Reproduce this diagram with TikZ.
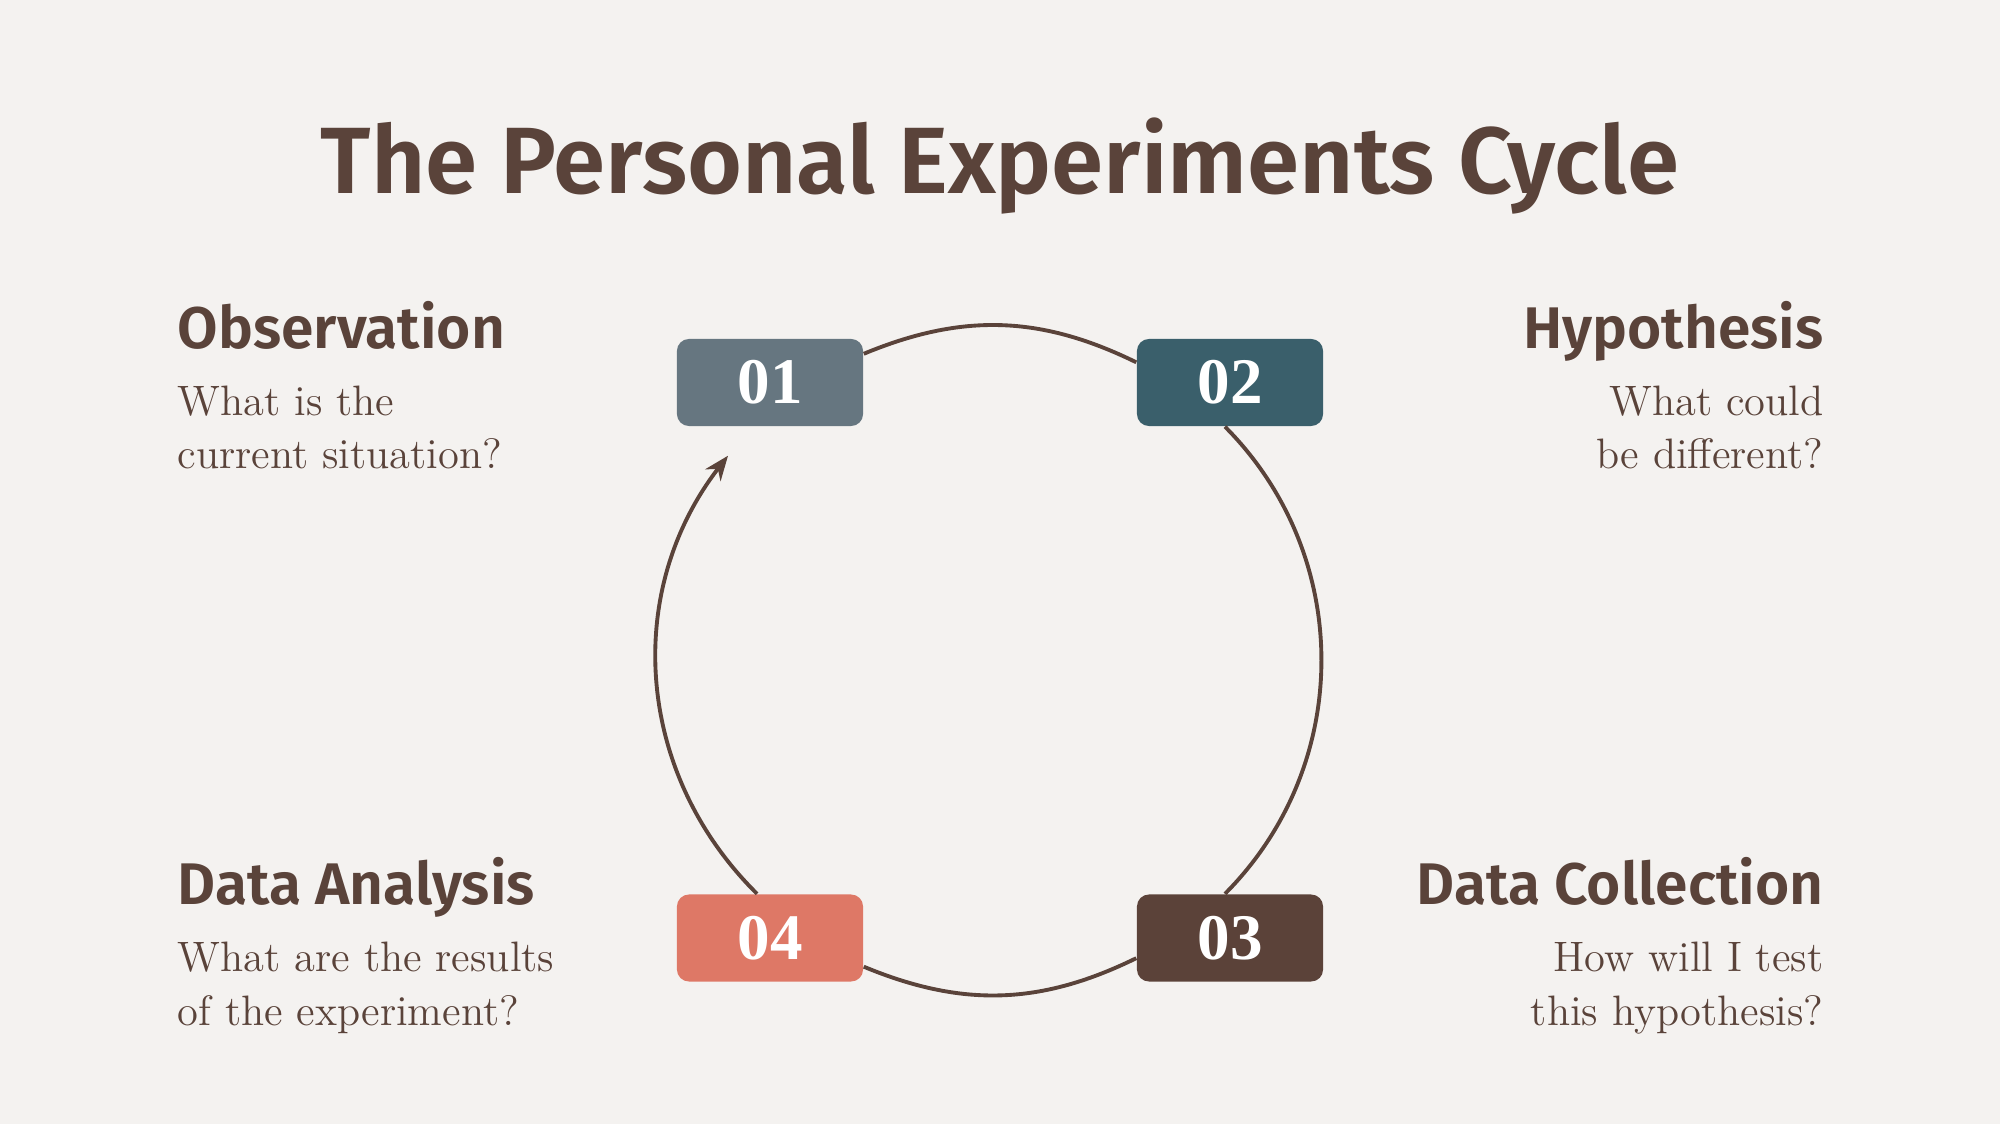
\documentclass[tikz,border=0pt]{standalone}
\usepackage{fontspec}
\setsansfont{Fira Sans}[BoldFont={Fira Sans SemiBold}]
\newfontfamily\numfont{Liberation Serif}
\usepackage{xcolor}
\usetikzlibrary{calc, positioning, arrows.meta}
\definecolor{bgcream}{HTML}{F4F2F0}
\definecolor{inkbrown}{HTML}{5A433A}
\definecolor{stepSlate}{HTML}{667680}
\definecolor{stepTeal}{HTML}{3A5F6B}
\definecolor{stepBrown}{HTML}{5B4239}
\definecolor{stepSalmon}{HTML}{DE7866}
\tikzset{
    title/.style={anchor=base, inner sep=0pt, text=inkbrown, font=\sffamily\bfseries\fontsize{26.8}{27}\selectfont},
    stepnum/.style={rectangle, rounded corners=3.4pt, minimum width=1.86cm, minimum height=0.87cm, inner sep=0pt, text=white, font=\numfont\bfseries\fontsize{18.5}{18.5}\selectfont},
    heading/.style={inner sep=0pt, text=inkbrown, font=\sffamily\bfseries\fontsize{16.7}{16.7}\selectfont},
    question/.style={inner sep=0pt, text=inkbrown, font=\fontsize{12.1}{15.1}\selectfont},
    ring/.style={draw=inkbrown, line width=1.1pt},
    arrow/.style={ring, -{Stealth[length=7pt, width=5.5pt]}}
}

\begin{document}
\begin{tikzpicture}[x=0.01cm, y=0.01cm]
        \fill[bgcream] (0,0) rectangle (2000,1124);
        \useasboundingbox (0,0) rectangle (2000,1124);

        % Title
        \node[title] (title) at (1000,930) {The Personal Experiments Cycle};

        % Steps
        \node[stepnum, fill=stepSlate] (n01) at (770,741.5) {01};
        \node[stepnum, fill=stepTeal] (n02) at (1230,741.5) {02};
        \node[stepnum, fill=stepBrown] (n03) at (1230,186) {03};
        \node[stepnum, fill=stepSalmon] (n04) at (770,186) {04};
        \coordinate (tip) at ($(n01.south)+(-42,-29)$);

        % Cycle
        \draw[ring] ($(n01.east)+(0,28.7)$) to[bend left=24.3] ($(n02.west)+(0,20.2)$);
        \draw[ring] ($(n02.south)+(-5,0)$) to[bend left=44.9] ($(n03.north)+(-5,0)$);
        \draw[ring] ($(n03.west)+(0,-20.2)$) to[bend left=24.3] ($(n04.east)+(0,-28.7)$);
        \draw[arrow] ($(n04.north)+(-13,0)$) to[bend left=41.5] (tip);

        % Labels (questions sit on the baseline of their last line)
        \node[heading, anchor=base west] (hObs) at (177,775) {Observation};
        \node[question, anchor=base west, align=left] (qObs) at (177,655) {What is the\\current situation?};
        \node[heading, anchor=base east] (hHyp) at (1824,775) {Hypothesis};
        \node[question, anchor=base east, align=right] (qHyp) at (1824,655) {What could\\be different?};
        \node[heading, anchor=base east] (hCol) at (1824,219) {Data Collection};
        \node[question, anchor=base east, align=right] (qCol) at (1824,99) {How will I test\\this hypothesis?};
        \node[heading, anchor=base west] (hAna) at (177,219) {Data Analysis};
        \node[question, anchor=base west, align=left] (qAna) at (177,99) {What are the results\\of the experiment?};
    \end{tikzpicture}
\end{document}
